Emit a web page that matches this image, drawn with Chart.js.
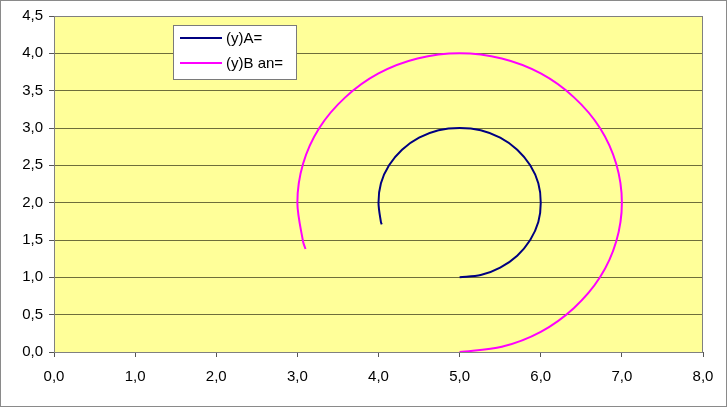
<!DOCTYPE html>
<html>
<head>
<meta charset="utf-8">
<script src="https://cdn.jsdelivr.net/npm/chart.js@4"></script>
<style>
  html, body { margin: 0; padding: 0; background: #fff; }
  #wrap { width: 727px; height: 407px; box-sizing: border-box; border: 1px solid #8a8a8a; }
</style>
</head>
<body>
<div id="wrap"><canvas id="chart" width="725" height="405"></canvas></div>
<script>
// series A: small arc
const aX = [5.00, 5.26, 5.50, 5.71, 5.87, 5.97, 6.00, 5.97, 5.87, 5.71, 5.50, 5.26, 5.00, 4.74, 4.50, 4.29, 4.13, 4.03, 4.00, 4.03, 4.04];
const aY = [1.00, 1.03, 1.13, 1.29, 1.50, 1.74, 2.00, 2.26, 2.50, 2.71, 2.87, 2.97, 3.00, 2.97, 2.87, 2.71, 2.50, 2.26, 2.00, 1.74, 1.71];
// series B: large arc
const bX = [5.00, 5.52, 6.00, 6.41, 6.73, 6.93, 7.00, 6.93, 6.73, 6.41, 6.00, 5.52, 5.00, 4.48, 4.00, 3.59, 3.27, 3.07, 3.00, 3.07, 3.10];
const bY = [0.00, 0.07, 0.27, 0.59, 1.00, 1.48, 2.00, 2.52, 3.00, 3.41, 3.73, 3.93, 4.00, 3.93, 3.73, 3.41, 3.00, 2.52, 2.00, 1.48, 1.38];
const seriesNames = ["(y)A=", "(y)B an="];
const seriesColors = ["#000080", "#ff00ff"];

function toPoints(xs, ys) {
  return xs.map((x, i) => ({ x: x, y: ys[i] }));
}

const fmt = (v) => v.toFixed(1).replace(".", ",");

// yellow plot area with grey frame
const plotArea = {
  id: "plotArea",
  beforeDraw(chart) {
    const { ctx, chartArea: a } = chart;
    ctx.save();
    ctx.fillStyle = "#ffff99";
    ctx.fillRect(a.left, a.top, a.right - a.left, a.bottom - a.top);
    ctx.restore();
  },
  afterDatasetsDraw(chart) {
    const { ctx, chartArea: a } = chart;
    ctx.save();
    ctx.strokeStyle = "#808080";
    ctx.lineWidth = 1;
    ctx.strokeRect(a.left + 0.5, a.top + 0.5, a.right - a.left - 1, a.bottom - a.top);
    ctx.restore();
  }
};

// Excel-like legend box placed inside the plot
const boxLegend = {
  id: "boxLegend",
  afterDraw(chart) {
    const ctx = chart.ctx;
    const x = 172, y = 24, w = 123, h = 54;
    ctx.save();
    ctx.fillStyle = "#ffffff";
    ctx.fillRect(x, y, w, h);
    ctx.strokeStyle = "#7a7a7a";
    ctx.lineWidth = 1;
    ctx.strokeRect(x + 0.5, y + 0.5, w, h);
    ctx.font = "15px 'Liberation Sans', Arial, sans-serif";
    ctx.textBaseline = "middle";
    chart.data.datasets.forEach((ds, i) => {
      const ly = y + 13 + i * 25;
      ctx.strokeStyle = ds.borderColor;
      ctx.lineWidth = 2;
      ctx.beginPath();
      ctx.moveTo(x + 7, ly);
      ctx.lineTo(x + 49, ly);
      ctx.stroke();
      ctx.fillStyle = "#000";
      ctx.fillText(ds.label, x + 53, ly + 1);
    });
    ctx.restore();
  }
};

const tickFont = { family: "'Liberation Sans', Arial, sans-serif", size: 15 };

new Chart(document.getElementById("chart"), {
  type: "scatter",
  data: {
    datasets: [
      { label: seriesNames[0], data: toPoints(aX, aY), borderColor: seriesColors[0] },
      { label: seriesNames[1], data: toPoints(bX, bY), borderColor: seriesColors[1] }
    ].map((d) => Object.assign(d, {
      showLine: true, borderWidth: 2, pointRadius: 0, tension: 0.3, fill: false
    }))
  },
  options: {
    responsive: false,
    animation: false,
    layout: { padding: { left: 0, right: 23, top: 14, bottom: 0 } },
    plugins: { legend: { display: false }, tooltip: { enabled: false } },
    scales: {
      x: {
        min: 0, max: 8,
        ticks: { stepSize: 1, color: "#000", font: tickFont, padding: 11, maxRotation: 0, callback: (v) => fmt(v) },
        grid: { drawOnChartArea: false, drawTicks: true, tickLength: 5, tickColor: "#555" },
        border: { color: "#555" },
        afterFit: (s) => { s.height = 54; }
      },
      y: {
        min: 0, max: 4.5,
        ticks: { stepSize: 0.5, color: "#000", font: tickFont, padding: 6, callback: (v) => fmt(v) },
        grid: { color: "#6e6e3a", lineWidth: 1, drawTicks: true, tickLength: 5, tickColor: "#555" },
        border: { color: "#555" },
        afterFit: (s) => { s.width = 53; }
      }
    }
  },
  plugins: [plotArea, boxLegend]
});
</script>
</body>
</html>
